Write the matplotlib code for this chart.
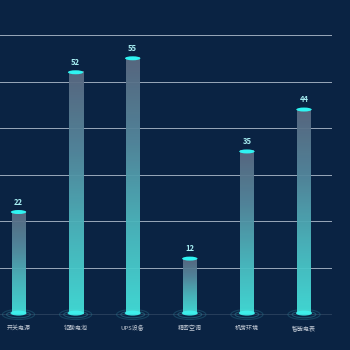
import numpy as np
import matplotlib
matplotlib.use("Agg")
import matplotlib.pyplot as plt
from matplotlib.colors import LinearSegmentedColormap
from matplotlib.patches import Ellipse

plt.rcParams['font.family'] = ['Noto Sans CJK SC', 'DejaVu Sans']

categories = ['开关电源', '铅酸电池', 'UPS设备', '精密空调', '机房环境', '智能电表']
values = [22, 52, 55, 12, 35, 44]
yticks = [0, 10, 20, 30, 40, 50, 60]

bg = '#0a2343'
fig = plt.figure(figsize=(3.5, 3.5), dpi=100, facecolor=bg)
ax = fig.add_axes([0, 1 - 314.5 / 350, 332 / 350, (314.5 - 35) / 350])
ax.set_facecolor(bg)
xmin = -18.5 / 57.1
xmax = xmin + 332 / 57.1
for s in ax.spines.values():
    s.set_visible(False)
ax.set_xticks([])
ax.set_yticks([])

for t in yticks[1:]:
    ax.axhline(t, color='#9aa9ba', lw=0.7, zorder=1)
ax.axhline(0, color='#9aa9ba', lw=1.0, zorder=1)

cmap = LinearSegmentedColormap.from_list('g', ['#44e0da', '#4cb9bf', '#55899e', '#5b6a82'])
bw = 14 / 57.1
ppu_y = (314.5 - 35) / 60  # px per unit
for i, v in enumerate(values):
    grad = np.linspace(0, 1, 256).reshape(-1, 1)
    ax.imshow(grad, extent=[i - bw / 2, i + bw / 2, 0, v], origin='lower',
              cmap=cmap, vmin=0, vmax=1, aspect='auto', zorder=3, alpha=0.95)
    # bottom glow rings
    for w, h, a in [(bw * 2.3, 10 / ppu_y, 0.35), (bw * 1.7, 6.5 / ppu_y, 0.5)]:
        ax.add_patch(Ellipse((i, 0), w, h, facecolor='none', edgecolor='#2f7f95',
                             lw=0.8, alpha=a, zorder=2, clip_on=False))
    ax.add_patch(Ellipse((i, 0.3), bw * 1.15, 5 / ppu_y, facecolor='#3ef2ee',
                         edgecolor='none', alpha=0.9, zorder=4, clip_on=False))
    # top cap
    ax.add_patch(Ellipse((i, v), bw * 1.1, 4 / ppu_y, facecolor='#2ff4f2',
                         edgecolor='none', zorder=5))
    ax.text(i, v + 5.5 / ppu_y, str(v), ha='center', va='bottom', fontsize=5.5,
            fontweight='bold', color='#a6eef2', zorder=6)
    ax.text(i, -13.5 / ppu_y, categories[i], ha='center', va='center', fontsize=4.3,
            color='#c4cbd6', zorder=6, clip_on=False)
ax.set_xlim(xmin, xmax)
ax.set_ylim(0, 60)

fig.savefig('out.png', dpi=100, facecolor=bg)
